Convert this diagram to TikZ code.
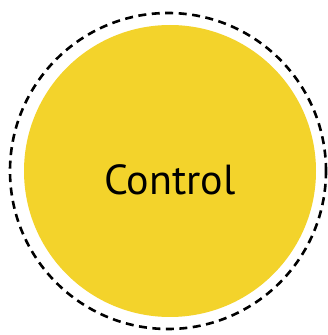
\documentclass[tikz,border=0pt]{standalone}
\usepackage{fontspec}
\setmainfont{PT Sans}
\definecolor{ctlyellow}{HTML}{F3D32B}
\begin{document}
\begin{tikzpicture}[x=1pt,y=1pt,
  outerring/.style={draw=black,line width=2.6pt,dash pattern=on 8pt off 5.5pt},
  innerdisc/.style={fill=ctlyellow},
  lbl/.style={font=\fontsize{42}{48}\selectfont,text=black,inner sep=0pt,anchor=base}]
\useasboundingbox (0,0) rectangle (327,335);
\draw[outerring] (168,164) circle (158);
\fill[innerdisc] (170,164) circle (146);
\node[lbl] (ctl) at (170,140) {Control};
\end{tikzpicture}
\end{document}
